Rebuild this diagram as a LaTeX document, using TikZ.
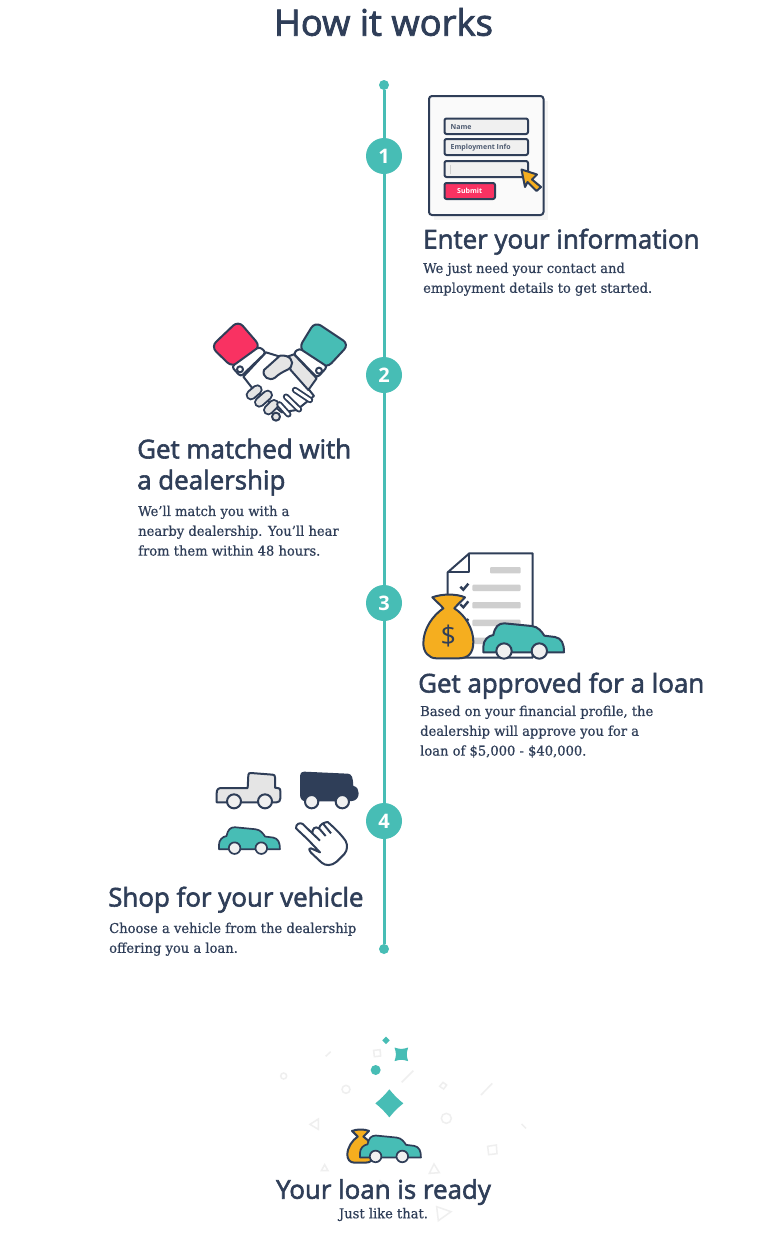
\documentclass[tikz,border=0pt]{standalone}
\usepackage{fontspec}
\setmainfont{Open Sans}
\newfontfamily\headf[FakeBold=2.2]{Open Sans}
\newfontfamily\numf[Weight=Bold]{Open Sans}
\newfontfamily\bodyf[FakeStretch=0.97,FakeBold=0.6]{DejaVu Serif}
\definecolor{ink}{HTML}{2F3E58}
\definecolor{teal}{HTML}{47BDB5}
\definecolor{rosy}{HTML}{F93262}
\definecolor{gold}{HTML}{F5AE1F}
\definecolor{pale}{HTML}{E5E5E5}
\definecolor{barg}{HTML}{CFCFCF}
\definecolor{wheelg}{HTML}{F0F0F0}
\definecolor{conf}{HTML}{EFEFEF}
\tikzset{
  timeline/.style={teal,line width=3pt},
  enddot/.style={circle,fill=teal,minimum size=10pt,inner sep=0pt},
  stepnum/.style={circle,fill=teal,text=white,minimum size=36pt,inner sep=0pt,font=\normalfont\fontsize{20}{20}\selectfont\bfseries},
  heading/.style={anchor=north west,inner sep=0pt,align=left,text=ink,font=\headf\fontsize{25.9}{31}\selectfont},
  para/.style={anchor=north west,inner sep=0pt,align=left,text=ink,font=\bodyf\fontsize{13.5}{19.8}\selectfont},
  icon/.style={draw=ink,line width=2pt,line join=round},
  bar/.style={fill=barg,rounded corners=1pt},
  confetti/.style={draw=conf,line width=1.5pt},
}
\newcommand{\zoomscope}[4]{\begin{scope}[shift={(#1,#2)},x=#3pt/3,y=-#3pt/3,#4]}
\newcommand{\carshape}[1]{%
  \draw[icon,fill=teal,line width=#1pt] (205,305) .. controls (205,285) and (220,272) .. (235,270)
    .. controls (240,245) and (250,235) .. (268,235) -- (350,243)
    .. controls (370,245) and (380,260) .. (388,272) -- (420,276)
    .. controls (440,280) and (447,295) .. (447,322) -- (205,322)
    .. controls (205,316) and (205,310) .. (205,305) -- cycle;
  \draw[icon,fill=wheelg,line width=#1pt] (267,318) circle (23);
  \draw[icon,fill=wheelg,line width=#1pt] (373,318) circle (23);}
\newcommand{\bagshape}[1]{%
  \draw[icon,fill=gold,line width=#1pt] (52,157) .. controls (80,146) and (125,146) .. (150,157)
    .. controls (140,168) and (128,178) .. (118,190)
    .. controls (150,210) and (175,250) .. (175,290)
    .. controls (175,325) and (160,340) .. (130,340) -- (65,340)
    .. controls (40,340) and (25,320) .. (25,295)
    .. controls (25,250) and (55,210) .. (85,190)
    .. controls (75,178) and (62,168) .. (52,157) -- cycle;}
\newcommand{\sparkle}[4]{%
  \fill[teal] (#1,#2-#3) .. controls (#1+.3*#3,#2-#4*#3) and (#1+#4*#3,#2-.3*#3) .. (#1+#3,#2)
    .. controls (#1+#4*#3,#2+.3*#3) and (#1+.3*#3,#2+#4*#3) .. (#1,#2+#3)
    .. controls (#1-.3*#3,#2+#4*#3) and (#1-#4*#3,#2+.3*#3) .. (#1-#3,#2)
    .. controls (#1-#4*#3,#2-.3*#3) and (#1-.3*#3,#2-#4*#3) .. (#1,#2-#3) -- cycle;}
\begin{document}
\begin{tikzpicture}[x=1pt,y=-1pt]
\useasboundingbox (0,0) rectangle (768,1248);
\fill[white] (0,0) rectangle (768,1248);

% title
\node[inner sep=0pt,text=ink,font=\headf\fontsize{36.4}{38}\selectfont] (title) at (383.5,22) {How it works};

% timeline
\node[enddot] (top) at (384,85) {};
\node[stepnum] (s1) at (384,156) {1};
\node[stepnum] (s2) at (384,375) {2};
\node[stepnum] (s3) at (384,603) {3};
\node[stepnum] (s4) at (384,821) {4};
\node[enddot] (bottom) at (384,949) {};
\draw[timeline] (top) -- (s1);
\draw[timeline] (s1) -- (s2);
\draw[timeline] (s2) -- (s3);
\draw[timeline] (s3) -- (s4);
\draw[timeline] (s4) -- (bottom);

% --- step 1 : form
\fill[conf!70] (434,101) rectangle (548,220);
\draw[icon,fill=white!98!black,rounded corners=3pt] (429,96) rectangle (543.5,215);
\draw[icon,fill=wheelg,rounded corners=2pt] (444.5,118.5) rectangle (528,134);
\draw[icon,fill=wheelg,rounded corners=2pt] (444.5,139) rectangle (528,155);
\draw[icon,fill=wheelg,rounded corners=2pt] (444.5,161) rectangle (528,177);
\draw[icon,fill=rosy,rounded corners=2pt] (444.5,183) rectangle (495,199);
\node[anchor=west,inner sep=0pt,text=ink!85,font=\fontsize{7}{8}\selectfont\bfseries] (fname) at (450.5,127.3) {Name};
\node[anchor=west,inner sep=0pt,text=ink!85,font=\fontsize{7}{8}\selectfont\bfseries] (femp) at (450.5,147.3) {Employment Info};
\node[inner sep=0pt,text=white,font=\fontsize{7}{8}\selectfont\bfseries] (fsub) at (469.7,190.7) {Submit};
\draw[barg,line width=.7pt] (450.5,164.5) -- (450.5,173.5);
\draw[icon,fill=gold] (521.5,169.5) -- (537,174.5) -- (532,179.5) -- (541,187) -- (536.5,191) -- (527.5,182) -- (525,187) -- cycle;

\node[heading] (h1) at (423,228.5) {Enter your information};
\node[para] (p1) at (423,262.5) {We just need your contact and\\employment details to get started.};

% --- step 2 : handshake
\zoomscope{200}{315}{1}{}
\draw[icon,fill=rosy,rounded corners=7pt] (115,17) -- (182,95) -- (97,157) -- (33,95) -- cycle;
\draw[icon,fill=teal,rounded corners=7pt] (345,20) -- (447,88) -- (380,160) -- (296,100) -- cycle;
\draw[icon,fill=white] (198,112) -- (240,125) -- (320,215) -- (342,243) -- (290,285) -- (245,292) -- (155,217) -- (130,185) -- cycle;
\draw[icon,fill=pale] (262,125) -- (282,118) -- (350,190) -- (325,225) -- (272,165) -- cycle;
\draw[icon,fill=white,rounded corners=3pt] (178,95) -- (198,112) -- (122,185) -- (95,155) -- cycle;
\draw[icon,fill=white,rounded corners=3pt] (298,100) -- (382,155) -- (352,188) -- (280,115) -- cycle;
\draw[icon,fill=white] (120,163) circle (9);
\draw[icon,fill=white] (357,167) circle (9);
\draw[icon,fill=pale] (240,122) .. controls (270,118) and (283,140) .. (273,155)
  .. controls (265,168) and (250,165) .. (225,188) .. controls (208,200) and (185,185) .. (192,165) -- cycle;
\foreach \a/\b/\c/\d in {153/240/172/224,178/262/203/240,205/285/222/268}{
  \draw[ink,line width=32*1pt/3,line cap=round] (\a,\b) -- (\c,\d);
  \draw[pale,line width=20*1pt/3,line cap=round] (\a,\b) -- (\c,\d);}
\draw[icon,fill=pale] (228,305) circle (12);
\foreach \a/\b/\c/\d in {285/225/330/255,258/245/297/283,238/268/265/298}{
  \draw[ink,line width=19*1pt/3,line cap=round] (\a,\b) -- (\c,\d);
  \draw[white,line width=8*1pt/3,line cap=round] (\a,\b) -- (\c,\d);}
\end{scope}

\node[heading] (h2) at (137,438.5) {Get matched with\\a dealership};
\node[para] (p2) at (138,505.5) {We’ll match you with a\\nearby dealership. You’ll hear\\from them within 48 hours.};

% --- step 3 : paper, bag, car
\zoomscope{415}{545}{1}{}
\draw[icon,fill=white] (163,25) -- (353,25) -- (353,338) -- (98,338) -- (98,82) -- cycle;
\draw[icon] (163,25) -- (163,82) -- (98,82);
\fill[bar] (225,66) rectangle (317,85);
\fill[bar] (172,119) rectangle (317,138);
\fill[bar] (172,171) rectangle (317,190);
\fill[bar] (172,224) rectangle (317,243);
\fill[bar] (172,278) rectangle (317,297);
\foreach \y in {125,178,231}{\draw[ink,line width=2.4pt] (136,\y) -- (145,\y+9) -- (160,\y-9);}
\bagshape{2}
\node[inner sep=0pt,text=ink,font=\fontsize{27}{27}\selectfont] (dollar) at (100,273) {\$};
\carshape{2}
\end{scope}

\node[heading] (h3) at (418,672.5) {Get approved for a loan};
\node[para] (p3) at (420,705.5) {Based on your financial profile, the\\dealership will approve you for a\\loan of \$5,000 - \$40,000.};

% --- step 4 : vehicles and hand
\zoomscope{205}{760}{1}{}
\draw[icon,fill=pale] (35,100) .. controls (35,88) and (40,84) .. (50,84) -- (128,84) -- (130,45) .. controls (130,40) and (133,39) .. (138,39)
  -- (203,44) .. controls (208,44) and (210,47) .. (210,52) -- (210,83) -- (222,85) .. controls (226,86) and (226,90) .. (226,95) -- (226,115) .. controls (226,122) and (222,127) .. (215,127) -- (35,127) -- cycle;
\draw[icon,fill=wheelg] (87,124) circle (21);
\draw[icon,fill=wheelg] (180,124) circle (21);
\draw[icon,fill=ink] (288,48) .. controls (288,40) and (292,38) .. (298,38) -- (428,44) .. controls (438,45) and (441,52) .. (442,80)
  .. controls (455,82) and (458,92) .. (458,100) .. controls (458,112) and (450,120) .. (440,120) -- (305,122) .. controls (295,122) and (288,115) .. (288,105) -- cycle;
\draw[icon,fill=wheelg] (320,125) circle (20);
\draw[icon,fill=wheelg] (412,125) circle (20);
\draw[icon,fill=white] (273,205) .. controls (272,192) and (285,186) .. (293,192) -- (322,220)
  .. controls (322,205) and (330,198) .. (342,205) .. controls (345,192) and (358,187) .. (368,186)
  .. controls (390,205) and (410,225) .. (422,243) .. controls (428,255) and (428,270) .. (418,282)
  -- (395,305) .. controls (380,318) and (362,318) .. (350,308) -- (318,278) .. controls (310,268) and (312,262) .. (318,265)
  -- (345,277) -- (308,238) -- cycle;
\draw[ink,line width=2pt,line join=round] (322,220) -- (345,242) (342,205) -- (362,228) (355,192) -- (378,220);
\end{scope}
\zoomscope{167.3}{768}{.756}{}
\carshape{1.7}
\end{scope}

\node[heading] (h4) at (108,886.5) {Shop for your vehicle};
\node[para] (p4) at (109,922.5) {Choose a vehicle from the dealership\\offering you a loan.};

% --- final : confetti
\zoomscope{260}{1030}{1}{}
\draw[confetti] (197,79) -- (212,65) (425,157) -- (460,122) (663,195) -- (697,160) (785,282) -- (798,295) (358,450) -- (378,472);
\draw[confetti] (71,138) circle (9) (258,178) circle (12) (559,265) circle (15);
\draw[confetti] (341,61) -- (360,59) -- (362,78) -- (343,80) -- cycle;
\draw[confetti] (549,157) -- (560,165) -- (551,177) -- (539,169) -- cycle;
\draw[confetti] (683,349) -- (709,345) -- (711,371) -- (686,374) -- cycle;
\draw[confetti] (150,283) -- (175,267) -- (175,298) -- cycle;
\draw[confetti] (184,422) -- (194,404) -- (204,422) -- cycle;
\draw[confetti] (508,430) -- (522,402) -- (538,428) -- cycle;
\draw[confetti] (530,530) -- (573,545) -- (535,572) -- cycle;
\fill[teal] (347,120) circle (15);
\sparkle{378}{31}{11}{.5}
\sparkle{388}{220}{42}{.62}
\begin{scope}[shift={(424,73)},rotate=45]\sparkle{0}{0}{29}{.42}\end{scope}
\end{scope}
\zoomscope{343}{1103.7}{.52}{}
\bagshape{2}
\end{scope}
\zoomscope{308.3}{1076.3}{.756}{}
\carshape{1.7}
\end{scope}

\node[heading,anchor=center,align=center] (h5) at (383.5,1192) {Your loan is ready};
\node[para,anchor=center,align=center,font=\bodyf\fontsize{13.5}{16}\selectfont] (p5) at (383.5,1214.5) {Just like that.};
\end{tikzpicture}
\end{document}
